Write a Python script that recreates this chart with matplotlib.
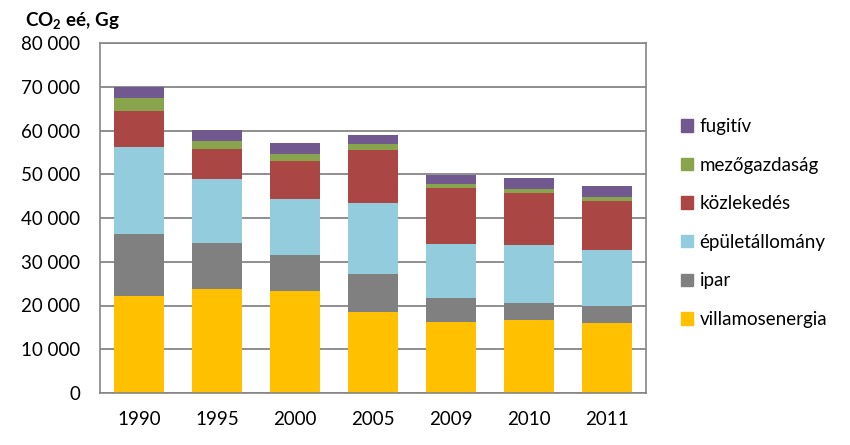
import numpy as np
import matplotlib
matplotlib.use("Agg")
import matplotlib.pyplot as plt
from matplotlib.ticker import FuncFormatter
from matplotlib.patches import Patch

years = ["1990", "1995", "2000", "2005", "2009", "2010", "2011"]
villamosenergia = [22200, 23800, 23350, 18560, 16280, 16740, 16050]
ipar = [14170, 10500, 8230, 8680, 5480, 3880, 3880]
epuletallomany = [19860, 14600, 12780, 16210, 12330, 13240, 12850]
kozlekedes = [8220, 6850, 8670, 12100, 12780, 11880, 11130]
mezogazdasag = [2950, 1820, 1600, 1370, 910, 910, 910]
fugitiv = [2600, 2500, 2520, 2050, 2120, 2510, 2510]

series = [
    ("villamosenergia", villamosenergia, "#FFC000"),
    ("ipar", ipar, "#808080"),
    ("épületállomány", epuletallomany, "#93CDDD"),
    ("közlekedés", kozlekedes, "#AA4644"),
    ("mezőgazdaság", mezogazdasag, "#88A44C"),
    ("fugitív", fugitiv, "#71588F"),
]

plt.rcParams["font.family"] = ["Lato", "DejaVu Sans"]
plt.rcParams["mathtext.fontset"] = "custom"
plt.rcParams["mathtext.rm"] = "Lato"
plt.rcParams["mathtext.bf"] = "Lato:bold"

fig = plt.figure(figsize=(8.5, 4.45), dpi=100)
ax = fig.add_axes([100 / 850, 1 - 393 / 445, 546 / 850, 350 / 445])

x = np.arange(len(years))
bottom = np.zeros(len(years))
for name, vals, color in series:
    ax.bar(x, vals, width=0.65, bottom=bottom, color=color, zorder=2)
    bottom += np.array(vals)

ax.set_xlim(-0.5, len(years) - 0.5)
ax.set_ylim(0, 80000)
ax.set_yticks(np.arange(0, 80001, 10000))
ax.yaxis.set_major_formatter(FuncFormatter(lambda v, p: "{:,}".format(int(v)).replace(",", " ")))
ax.set_xticks(x)
ax.set_xticklabels(years)
ax.grid(axis="y", color="#868686", linewidth=1.3, zorder=0)
for s in ax.spines.values():
    s.set_color("#868686")
    s.set_linewidth(1.2)
ax.tick_params(axis="y", labelsize=13.5, length=0, pad=14)
ax.tick_params(axis="x", labelsize=13.5, length=0, pad=13)

fig.text(25 / 850, 1 - 21 / 445, r"CO$_\mathbf{2}$ eé, Gg", fontsize=13.5, fontweight="bold",
         va="center", ha="left")

handles = [Patch(color=c, label=n) for n, v, c in series][::-1]
fig.legend(handles=handles, loc="center left", bbox_to_anchor=(664 / 850, 1 - 223 / 445),
           frameon=False, fontsize=13.5, handlelength=0.65, handleheight=0.65,
           handletextpad=0.35, labelspacing=1.15)

fig.savefig("out.png", dpi=100)
